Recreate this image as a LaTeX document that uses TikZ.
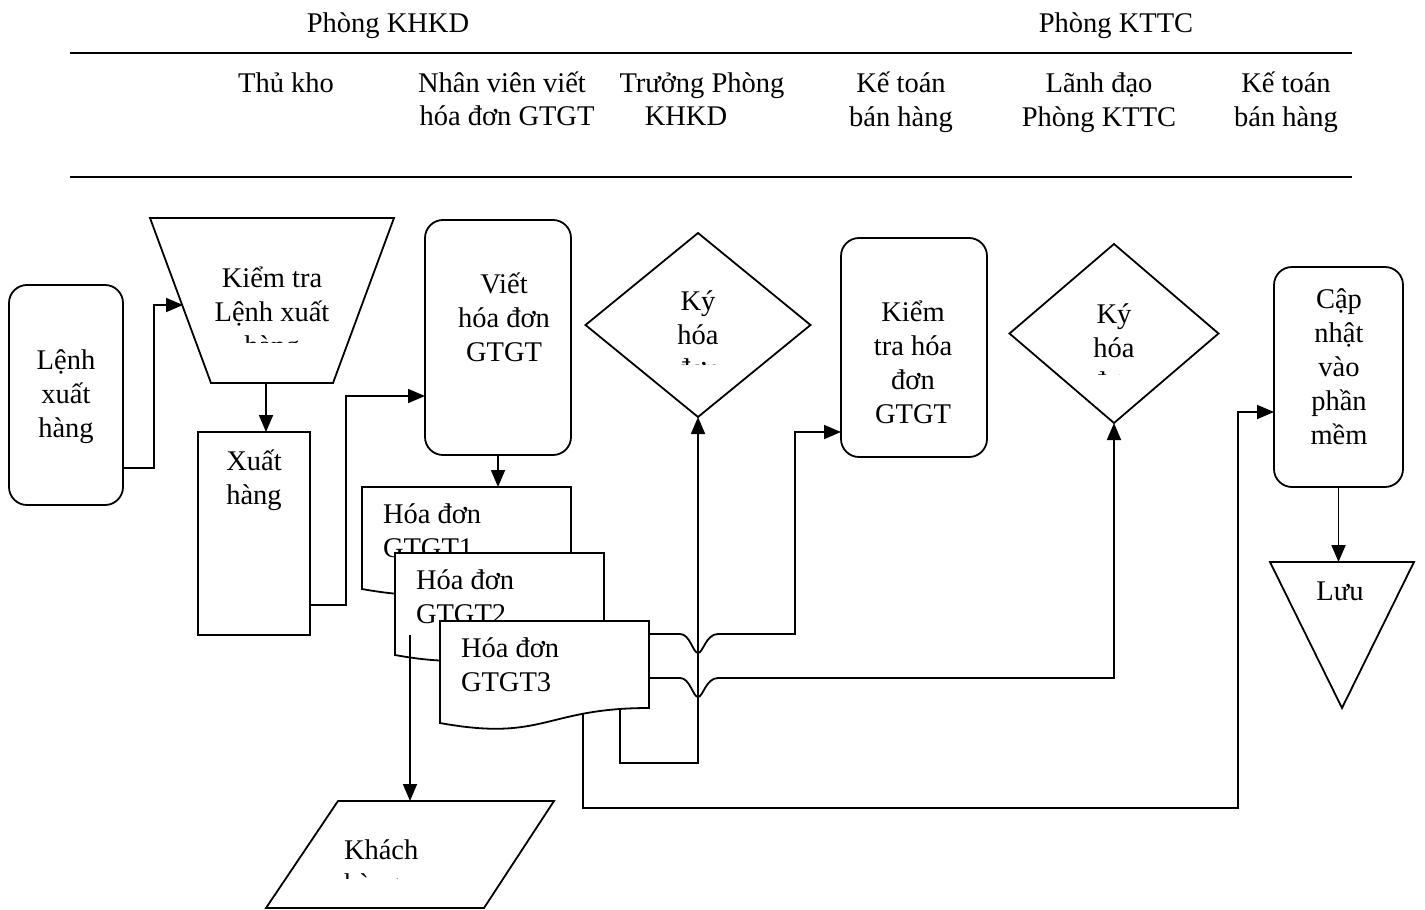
\documentclass[tikz,border=0pt]{standalone}
\usepackage{fontspec}
\setmainfont{Liberation Serif}
\usetikzlibrary{arrows.meta,shapes.geometric}
\newcommand\ctext[1]{\begin{tabular}[t]{@{}c@{}}#1\end{tabular}}
\newcommand\ltext[1]{\begin{tabular}[t]{@{}l@{}}#1\end{tabular}}
\begin{document}
\begin{tikzpicture}[x=1pt,y=-1pt,
  every node/.style={inner sep=0pt, outer sep=0pt},
  txt/.style={anchor=base, font=\fontsize{28.5}{34}\selectfont},
  box/.style={draw, line width=1.8pt, fill=white},
  rbox/.style={box, rectangle, rounded corners=18pt},
  dia/.style={box, diamond},
  conn/.style={line width=1.8pt},
  arr/.style={conn, -{Triangle[length=17pt,width=14pt]}},
  rule/.style={line width=2.4pt}]
\fill[white] (0,0) rectangle (1425,910);
\useasboundingbox (0,0) rectangle (1425,910);

% header
\node[txt] (hKHKD) at (388,32) {Phòng KHKD};
\node[txt] (hKTTC) at (1116,32) {Phòng KTTC};
\coordinate (r1a) at (70,53); \coordinate (r1b) at (1352,53);
\coordinate (r2a) at (70,177); \coordinate (r2b) at (1352,177);
\draw[rule] (r1a) -- (r1b);
\draw[rule] (r2a) -- (r2b);
\node[txt] (c1) at (286,92) {Thủ kho};
\node[txt] (c2a) at (502,92) {Nhân viên viết};
\node[txt] (c2b) at (507,125) {hóa đơn GTGT};
\node[txt] (c3a) at (702,92) {Trưởng Phòng};
\node[txt] (c3b) at (686,125) {KHKD};
\node[txt] (c4) at (901,92) {\ctext{Kế toán\\bán hàng}};
\node[txt] (c5) at (1099,92) {\ctext{Lãnh đạo\\Phòng KTTC}};
\node[txt] (c6) at (1286,92) {\ctext{Kế toán\\bán hàng}};

% shapes
\node[rbox, minimum width=114pt, minimum height=220pt] (lenh) at (66,395) {};
\node[txt] (tlenh) at (66,369) {\ctext{Lệnh\\xuất\\hàng}};

\draw[box] (150,218) -- (394,218) -- (333,383) -- (211,383) -- cycle;
\coordinate (trapL) at (183,305);
\coordinate (trapB) at (266,383);
\begin{scope}
  \clip (150,218) rectangle (394,342);
  \node[txt] (ttrap) at (272,287) {\ctext{Kiểm tra\\Lệnh xuất\\hàng}};
\end{scope}

\node[box, rectangle, minimum width=112pt, minimum height=203pt] (xuat) at (254,533.5) {};
\node[txt] (txuat) at (254,470) {\ctext{Xuất\\hàng}};

\node[rbox, minimum width=146pt, minimum height=235pt] (viet) at (498,337.5) {};
\node[txt] (tviet) at (504,293) {\ctext{Viết\\hóa đơn\\GTGT}};

% documents
\begin{scope}[shift={(362,487)}]
  \draw[box] (0,0) -- (209,0) -- (209,87) .. controls (104.5,87) and (104.5,121) .. (0,102) -- cycle;
  \coordinate (d1top) at (0,0);
  \node[txt, anchor=base west] (td1) at (21,36) {\ltext{Hóa đơn\\GTGT1}};
\end{scope}
\begin{scope}[shift={(395,553)}]
  \draw[box] (0,0) -- (209,0) -- (209,87) .. controls (104.5,87) and (104.5,121) .. (0,102) -- cycle;
  \coordinate (d2out) at (15,82);
  \node[txt, anchor=base west] (td2) at (21,36) {\ltext{Hóa đơn\\GTGT2}};
\end{scope}
\begin{scope}[shift={(440,621)}]
  \draw[box] (0,0) -- (209,0) -- (209,87) .. controls (104.5,87) and (104.5,121) .. (0,102) -- cycle;
  \coordinate (d3r1) at (209,13);
  \coordinate (d3r2) at (209,57);
  \coordinate (d3b1) at (180,88);
  \coordinate (d3b2) at (143,93);
  \node[txt, anchor=base west] (td3) at (21,36) {\ltext{Hóa đơn\\GTGT3}};
\end{scope}

% customer
\draw[box] (338,801) -- (554,801) -- (484,908) -- (266,908) -- cycle;
\coordinate (khachT) at (410,801);
\begin{scope}
  \clip (266,801) rectangle (554,878);
  \node[txt, anchor=base west] (tkhach) at (344,859) {\ltext{Khách\\hàng}};
\end{scope}

% diamonds
\node[dia, minimum width=225pt, minimum height=184pt] (ky1) at (698,325) {};
\begin{scope}
  \clip (590,235) rectangle (810,364);
  \node[txt] (tky1) at (698,310) {\ctext{Ký\\hóa\\đơn}};
\end{scope}
\node[dia, minimum width=209pt, minimum height=179pt] (ky2) at (1114,333.5) {};
\begin{scope}
  \clip (1010,240) rectangle (1220,374);
  \node[txt] (tky2) at (1114,323) {\ctext{Ký\\hóa\\đơn}};
\end{scope}

\node[rbox, minimum width=146pt, minimum height=219pt] (kiem) at (914,347.5) {};
\node[txt] (tkiem) at (913,321) {\ctext{Kiểm\\tra hóa\\đơn\\GTGT}};

\node[rbox, minimum width=129pt, minimum height=220pt] (cap) at (1338.5,377) {};
\node[txt] (tcap) at (1339,308) {\ctext{Cập\\nhật\\vào\\phần\\mềm}};

\draw[box] (1270,562) -- (1414,562) -- (1342,708) -- cycle;
\coordinate (luuT) at (1338.5,562);
\node[txt] (tluu) at (1340,600) {Lưu};

% connectors
\draw[arr] (lenh.east |- 0,468) -- (154,468) -- (154,305) -- (trapL);
\draw[arr] (trapB) -- (trapB |- xuat.north);
\draw[arr] (xuat.east |- 0,605) -- (346,605) -- (346,396) -- (viet.west |- 0,396);
\draw[arr] (viet.south) -- (viet.south |- d1top);
\draw[arr] (d2out) -- (d2out |- khachT);
\draw[arr] (d3b1) -- (620,763) -- (698,763) -- (ky1.south);
\draw[arr] (d3r1) -- (680,634) .. controls (690,634) and (693,653) .. (698,653)
  .. controls (703,653) and (706,634) .. (718,634) -- (795,634) -- (795,432) -- (kiem.west |- 0,432);
\draw[arr] (d3r2) -- (680,678) .. controls (690,678) and (693,697) .. (698,697)
  .. controls (703,697) and (706,678) .. (718,678) -- (ky2.south |- 0,678) -- (ky2.south);
\draw[arr] (d3b2) -- (583,808) -- (1238,808) -- (1238,412) -- (cap.west |- 0,412);
\draw[arr] (cap.south) -- (luuT);
\end{tikzpicture}
\end{document}
